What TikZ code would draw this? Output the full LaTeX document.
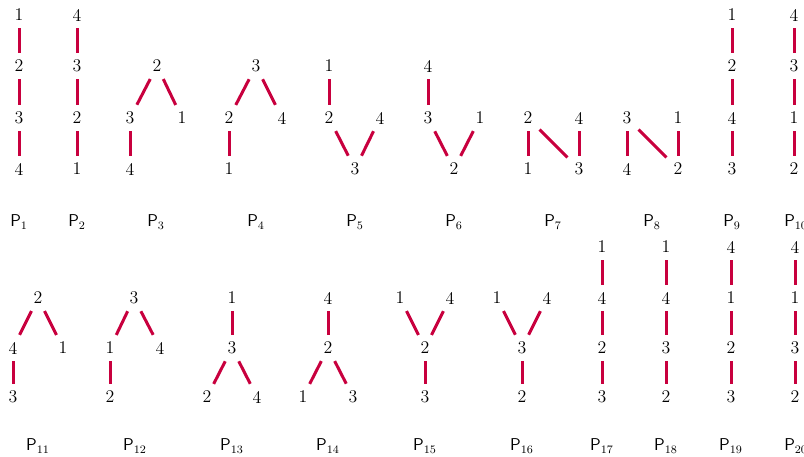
\documentclass[tikz,border=0pt]{standalone}
\definecolor{crim}{RGB}{200,0,62}
\begin{document}
\begin{tikzpicture}[x=0.7pt,y=-0.7pt,
 num/.style={rectangle,inner sep=4.8pt,font=\fontsize{12.5}{14}\selectfont},
 plab/.style={inner sep=0pt,font=\fontsize{12}{14}\selectfont},
 lnk/.style={draw=crim,line width=2.1pt}]
\useasboundingbox (0,0) rectangle (804,457);

% ---------- top row ----------
% P1
\node[num] (p1n1) at (19,15) {1};
\node[num] (p1n2) at (19,66) {2};
\node[num] (p1n3) at (19,118) {3};
\node[num] (p1n4) at (19,169) {4};
\draw[lnk] (p1n1) -- (p1n2); \draw[lnk] (p1n2) -- (p1n3); \draw[lnk] (p1n3) -- (p1n4);
\node[plab] (L1) at (19,222) {$\mathsf{P}_{1}$};
% P2
\node[num] (p2n4) at (77,15) {4};
\node[num] (p2n3) at (77,66) {3};
\node[num] (p2n2) at (77,118) {2};
\node[num] (p2n1) at (77,169) {1};
\draw[lnk] (p2n4) -- (p2n3); \draw[lnk] (p2n3) -- (p2n2); \draw[lnk] (p2n2) -- (p2n1);
\node[plab] (L2) at (77,222) {$\mathsf{P}_{2}$};
% P3
\node[num] (p3n2) at (157,66) {2};
\node[num] (p3n3) at (130,118) {3};
\node[num] (p3n1) at (182,118) {1};
\node[num] (p3n4) at (130,169) {4};
\draw[lnk] (p3n2) -- (p3n3); \draw[lnk] (p3n2) -- (p3n1); \draw[lnk] (p3n3) -- (p3n4);
\node[plab] (L3) at (156,222) {$\mathsf{P}_{3}$};
% P4
\node[num] (p4n3) at (256,66) {3};
\node[num] (p4n2) at (229,118) {2};
\node[num] (p4n4) at (282,118) {4};
\node[num] (p4n1) at (229,169) {1};
\draw[lnk] (p4n3) -- (p4n2); \draw[lnk] (p4n3) -- (p4n4); \draw[lnk] (p4n2) -- (p4n1);
\node[plab] (L4) at (256,222) {$\mathsf{P}_{4}$};
% P5
\node[num] (p5n1) at (329,66) {1};
\node[num] (p5n2) at (329,118) {2};
\node[num] (p5n4) at (380,118) {4};
\node[num] (p5n3) at (355,169) {3};
\draw[lnk] (p5n1) -- (p5n2); \draw[lnk] (p5n2) -- (p5n3); \draw[lnk] (p5n4) -- (p5n3);
\node[plab] (L5) at (355,222) {$\mathsf{P}_{5}$};
% P6
\node[num] (p6n4) at (428,66) {4};
\node[num] (p6n3) at (428,118) {3};
\node[num] (p6n1) at (480,118) {1};
\node[num] (p6n2) at (454,169) {2};
\draw[lnk] (p6n4) -- (p6n3); \draw[lnk] (p6n3) -- (p6n2); \draw[lnk] (p6n1) -- (p6n2);
\node[plab] (L6) at (454,222) {$\mathsf{P}_{6}$};
% P7
\node[num] (p7n2) at (528,118) {2};
\node[num] (p7n4) at (579,118) {4};
\node[num] (p7n1) at (528,169) {1};
\node[num] (p7n3) at (579,169) {3};
\draw[lnk] (p7n2) -- (p7n1); \draw[lnk] (p7n2) -- (p7n3); \draw[lnk] (p7n4) -- (p7n3);
\node[plab] (L7) at (553,222) {$\mathsf{P}_{7}$};
% P8
\node[num] (p8n3) at (627,118) {3};
\node[num] (p8n1) at (678,118) {1};
\node[num] (p8n4) at (627,169) {4};
\node[num] (p8n2) at (678,169) {2};
\draw[lnk] (p8n3) -- (p8n4); \draw[lnk] (p8n3) -- (p8n2); \draw[lnk] (p8n1) -- (p8n2);
\node[plab] (L8) at (652,222) {$\mathsf{P}_{8}$};
% P9
\node[num] (p9n1) at (732,15) {1};
\node[num] (p9n2) at (732,66) {2};
\node[num] (p9n4) at (732,118) {4};
\node[num] (p9n3) at (732,169) {3};
\draw[lnk] (p9n1) -- (p9n2); \draw[lnk] (p9n2) -- (p9n4); \draw[lnk] (p9n4) -- (p9n3);
\node[plab] (L9) at (732,222) {$\mathsf{P}_{9}$};
% P10
\node[num] (p10n4) at (794,15) {4};
\node[num] (p10n3) at (794,66) {3};
\node[num] (p10n1) at (794,118) {1};
\node[num] (p10n2) at (794,169) {2};
\draw[lnk] (p10n4) -- (p10n3); \draw[lnk] (p10n3) -- (p10n1); \draw[lnk] (p10n1) -- (p10n2);
\node[plab] (L10) at (796,222) {$\mathsf{P}_{10}$};

% ---------- bottom row ----------
% P11
\node[num] (p11n2) at (38,298) {2};
\node[num] (p11n4) at (13,348) {4};
\node[num] (p11n1) at (63,348) {1};
\node[num] (p11n3) at (13,397) {3};
\draw[lnk] (p11n2) -- (p11n4); \draw[lnk] (p11n2) -- (p11n1); \draw[lnk] (p11n4) -- (p11n3);
\node[plab] (L11) at (38,446) {$\mathsf{P}_{11}$};
% P12
\node[num] (p12n3) at (134,298) {3};
\node[num] (p12n1) at (110,348) {1};
\node[num] (p12n4) at (160,348) {4};
\node[num] (p12n2) at (110,397) {2};
\draw[lnk] (p12n3) -- (p12n1); \draw[lnk] (p12n3) -- (p12n4); \draw[lnk] (p12n1) -- (p12n2);
\node[plab] (L12) at (135,446) {$\mathsf{P}_{12}$};
% P13
\node[num] (p13n1) at (232,298) {1};
\node[num] (p13n3) at (232,348) {3};
\node[num] (p13n2) at (207,397) {2};
\node[num] (p13n4) at (257,397) {4};
\draw[lnk] (p13n1) -- (p13n3); \draw[lnk] (p13n3) -- (p13n2); \draw[lnk] (p13n3) -- (p13n4);
\node[plab] (L13) at (232,446) {$\mathsf{P}_{13}$};
% P14
\node[num] (p14n4) at (328,298) {4};
\node[num] (p14n2) at (328,348) {2};
\node[num] (p14n1) at (303,397) {1};
\node[num] (p14n3) at (353,397) {3};
\draw[lnk] (p14n4) -- (p14n2); \draw[lnk] (p14n2) -- (p14n1); \draw[lnk] (p14n2) -- (p14n3);
\node[plab] (L14) at (328,446) {$\mathsf{P}_{14}$};
% P15
\node[num] (p15n1) at (400,298) {1};
\node[num] (p15n4) at (450,298) {4};
\node[num] (p15n2) at (425,348) {2};
\node[num] (p15n3) at (425,397) {3};
\draw[lnk] (p15n1) -- (p15n2); \draw[lnk] (p15n4) -- (p15n2); \draw[lnk] (p15n2) -- (p15n3);
\node[plab] (L15) at (425,446) {$\mathsf{P}_{15}$};
% P16
\node[num] (p16n1) at (497,298) {1};
\node[num] (p16n4) at (547,298) {4};
\node[num] (p16n3) at (522,348) {3};
\node[num] (p16n2) at (522,397) {2};
\draw[lnk] (p16n1) -- (p16n3); \draw[lnk] (p16n4) -- (p16n3); \draw[lnk] (p16n3) -- (p16n2);
\node[plab] (L16) at (522,446) {$\mathsf{P}_{16}$};
% P17
\node[num] (p17n1) at (602,247) {1};
\node[num] (p17n4) at (602,298) {4};
\node[num] (p17n2) at (602,348) {2};
\node[num] (p17n3) at (602,397) {3};
\draw[lnk] (p17n1) -- (p17n4); \draw[lnk] (p17n4) -- (p17n2); \draw[lnk] (p17n2) -- (p17n3);
\node[plab] (L17) at (602,446) {$\mathsf{P}_{17}$};
% P18
\node[num] (p18n1) at (666,247) {1};
\node[num] (p18n4) at (666,298) {4};
\node[num] (p18n3) at (666,348) {3};
\node[num] (p18n2) at (666,397) {2};
\draw[lnk] (p18n1) -- (p18n4); \draw[lnk] (p18n4) -- (p18n3); \draw[lnk] (p18n3) -- (p18n2);
\node[plab] (L18) at (666,446) {$\mathsf{P}_{18}$};
% P19
\node[num] (p19n4) at (731,247) {4};
\node[num] (p19n1) at (731,298) {1};
\node[num] (p19n2) at (731,348) {2};
\node[num] (p19n3) at (731,397) {3};
\draw[lnk] (p19n4) -- (p19n1); \draw[lnk] (p19n1) -- (p19n2); \draw[lnk] (p19n2) -- (p19n3);
\node[plab] (L19) at (731,446) {$\mathsf{P}_{19}$};
% P20
\node[num] (p20n4) at (795,247) {4};
\node[num] (p20n1) at (795,298) {1};
\node[num] (p20n3) at (795,348) {3};
\node[num] (p20n2) at (795,397) {2};
\draw[lnk] (p20n4) -- (p20n1); \draw[lnk] (p20n1) -- (p20n3); \draw[lnk] (p20n3) -- (p20n2);
\node[plab] (L20) at (796,446) {$\mathsf{P}_{20}$};
\end{tikzpicture}
\end{document}
